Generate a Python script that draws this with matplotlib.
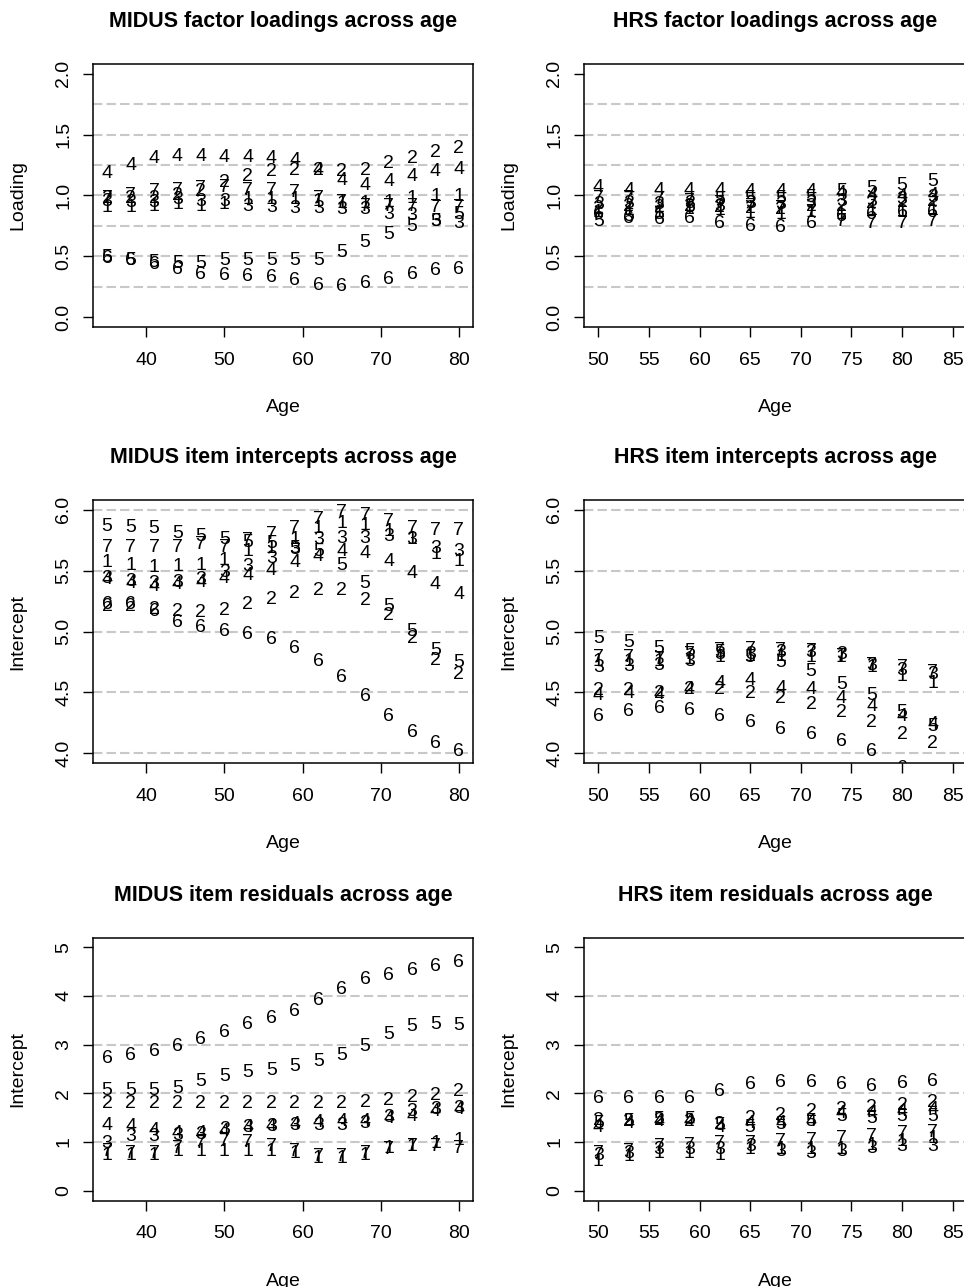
import matplotlib
matplotlib.use("Agg")
import matplotlib.pyplot as plt

plt.rcParams['font.family'] = ['Liberation Sans', 'DejaVu Sans']

# ages
midus_age = list(range(35, 81, 3))
hrs_age = list(range(50, 84, 3))

# MIDUS factor loadings (items 1-7)
ml1 = [0.92, 0.92, 0.93, 0.94, 0.93, 0.94, 0.98, 0.98, 0.98, 0.97, 0.95, 0.95, 0.96, 0.99, 1.01, 1.01]
ml2 = [0.99, 0.99, 0.99, 1.02, 1.05, 1.12, 1.17, 1.21, 1.22, 1.22, 1.21, 1.22, 1.28, 1.32, 1.37, 1.40]
ml3 = [0.97, 0.96, 0.96, 0.98, 0.97, 0.97, 0.93, 0.92, 0.91, 0.91, 0.90, 0.90, 0.86, 0.85, 0.80, 0.79]
ml4 = [1.20, 1.26, 1.32, 1.34, 1.34, 1.33, 1.33, 1.32, 1.30, 1.22, 1.14, 1.10, 1.13, 1.17, 1.21, 1.23]
ml5 = [0.51, 0.48, 0.47, 0.46, 0.46, 0.48, 0.48, 0.48, 0.48, 0.48, 0.55, 0.63, 0.70, 0.76, 0.80, 0.86]
ml6 = [0.50, 0.48, 0.45, 0.41, 0.37, 0.36, 0.35, 0.34, 0.32, 0.28, 0.27, 0.29, 0.33, 0.37, 0.40, 0.41]
ml7 = [0.99, 1.02, 1.05, 1.06, 1.07, 1.08, 1.06, 1.06, 1.04, 0.99, 0.96, 0.93, 0.93, 0.93, 0.92, 0.92]

# HRS factor loadings
hl1 = [0.88, 0.89, 0.88, 0.90, 0.89, 0.87, 0.86, 0.88, 0.86, 0.89, 0.88, 0.89]
hl2 = [0.91, 0.93, 0.92, 0.93, 0.92, 0.91, 0.90, 0.93, 0.93, 0.95, 0.96, 0.97]
hl3 = [0.94, 0.95, 0.94, 0.95, 0.93, 0.95, 0.94, 0.95, 0.97, 0.97, 0.98, 1.00]
hl4 = [1.08, 1.06, 1.06, 1.06, 1.06, 1.05, 1.05, 1.05, 1.03, 1.02, 1.01, 1.02]
hl5 = [0.80, 0.84, 0.86, 0.92, 0.98, 0.99, 0.99, 1.00, 1.05, 1.07, 1.10, 1.13]
hl6 = [0.86, 0.83, 0.82, 0.83, 0.79, 0.76, 0.75, 0.79, 0.84, 0.86, 0.88, 0.88]
hl7 = [0.99, 0.99, 0.98, 0.97, 0.95, 0.93, 0.91, 0.88, 0.80, 0.79, 0.79, 0.80]

# MIDUS item intercepts
mi1 = [5.58, 5.56, 5.54, 5.55, 5.56, 5.60, 5.67, 5.70, 5.77, 5.86, 5.90, 5.89, 5.84, 5.77, 5.65, 5.59]
mi2 = [5.22, 5.22, 5.20, 5.18, 5.17, 5.19, 5.24, 5.28, 5.33, 5.35, 5.35, 5.27, 5.15, 4.96, 4.78, 4.66]
mi3 = [5.45, 5.43, 5.41, 5.42, 5.44, 5.50, 5.55, 5.62, 5.69, 5.77, 5.78, 5.78, 5.80, 5.77, 5.70, 5.67]
mi4 = [5.44, 5.41, 5.39, 5.40, 5.42, 5.45, 5.48, 5.52, 5.58, 5.63, 5.67, 5.66, 5.59, 5.49, 5.40, 5.32]
mi5 = [5.88, 5.87, 5.86, 5.82, 5.80, 5.77, 5.75, 5.74, 5.70, 5.67, 5.56, 5.41, 5.22, 5.02, 4.86, 4.76]
mi6 = [5.24, 5.24, 5.18, 5.09, 5.05, 5.02, 4.99, 4.95, 4.88, 4.77, 4.64, 4.48, 4.32, 4.19, 4.10, 4.03]
mi7 = [5.71, 5.71, 5.71, 5.71, 5.73, 5.71, 5.76, 5.81, 5.86, 5.94, 5.99, 5.97, 5.92, 5.86, 5.85, 5.85]

# HRS item intercepts
hi1 = [4.77, 4.77, 4.77, 4.79, 4.80, 4.81, 4.81, 4.80, 4.80, 4.72, 4.65, 4.59]
hi2 = [4.53, 4.53, 4.51, 4.54, 4.54, 4.51, 4.47, 4.42, 4.35, 4.27, 4.17, 4.10]
hi3 = [4.72, 4.73, 4.74, 4.77, 4.83, 4.83, 4.84, 4.84, 4.83, 4.74, 4.70, 4.66]
hi4 = [4.49, 4.51, 4.50, 4.54, 4.59, 4.61, 4.55, 4.54, 4.47, 4.40, 4.32, 4.25]
hi5 = [4.96, 4.93, 4.88, 4.85, 4.84, 4.80, 4.76, 4.69, 4.58, 4.49, 4.35, 4.24]
hi6 = [4.32, 4.36, 4.38, 4.37, 4.32, 4.27, 4.21, 4.17, 4.11, 4.03, 3.89, 3.80]
hi7 = [4.80, 4.80, 4.79, 4.83, 4.86, 4.87, 4.86, 4.85, 4.81, 4.74, 4.72, 4.68]

# MIDUS item residuals
mr1 = [0.77, 0.77, 0.77, 0.84, 0.84, 0.84, 0.84, 0.84, 0.81, 0.71, 0.71, 0.77, 0.91, 0.96, 1.01, 1.08]
mr2 = [1.83, 1.83, 1.83, 1.83, 1.83, 1.83, 1.83, 1.83, 1.83, 1.83, 1.83, 1.85, 1.90, 1.95, 2.00, 2.07]
mr3 = [1.01, 1.15, 1.15, 1.18, 1.20, 1.29, 1.35, 1.37, 1.39, 1.39, 1.39, 1.42, 1.54, 1.66, 1.70, 1.73]
mr4 = [1.39, 1.37, 1.27, 1.22, 1.22, 1.25, 1.33, 1.37, 1.41, 1.44, 1.47, 1.47, 1.53, 1.56, 1.66, 1.70]
mr5 = [2.09, 2.09, 2.09, 2.14, 2.28, 2.39, 2.46, 2.52, 2.59, 2.69, 2.82, 3.01, 3.25, 3.42, 3.46, 3.44]
mr6 = [2.76, 2.82, 2.91, 3.01, 3.15, 3.30, 3.45, 3.58, 3.73, 3.95, 4.18, 4.38, 4.46, 4.57, 4.64, 4.72]
mr7 = [0.84, 0.81, 0.81, 0.91, 1.01, 1.05, 1.03, 0.94, 0.84, 0.74, 0.74, 0.81, 0.88, 0.94, 0.94, 0.91]

# HRS item residuals
hr1 = [0.64, 0.74, 0.81, 0.81, 0.77, 0.88, 0.88, 0.88, 0.88, 0.98, 1.05, 1.12]
hr2 = [1.49, 1.47, 1.49, 1.46, 1.40, 1.53, 1.59, 1.66, 1.71, 1.75, 1.80, 1.85]
hr3 = [0.77, 0.81, 0.88, 0.88, 0.88, 0.94, 0.84, 0.81, 0.84, 0.91, 0.94, 0.96]
hr4 = [1.34, 1.42, 1.46, 1.46, 1.35, 1.42, 1.42, 1.46, 1.63, 1.63, 1.66, 1.70]
hr5 = [1.42, 1.46, 1.51, 1.51, 1.39, 1.35, 1.40, 1.47, 1.56, 1.53, 1.56, 1.56]
hr6 = [1.94, 1.94, 1.94, 1.94, 2.07, 2.22, 2.26, 2.26, 2.22, 2.19, 2.24, 2.29]
hr7 = [0.81, 0.84, 0.94, 0.98, 1.01, 1.01, 1.05, 1.08, 1.12, 1.16, 1.22, 1.23]

W, H = 964, 1287
fig = plt.figure(figsize=(W / 100, H / 100), dpi=100)


def rlim(lo, hi):
    d = (hi - lo) * 0.04
    return lo - d, hi + d


def yticks_lab(ticks):
    if all(float(t).is_integer() for t in ticks) and max(ticks) > 2:
        return [str(int(t)) for t in ticks]
    return ['%.1f' % t for t in ticks]


def panel(left, top, width, ages, series, xr, xticks, yr, yticks, grid, title, ylab):
    ax = fig.add_axes([left / W, 1 - (top + 263) / H, width / W, 263 / H])
    ax.set_xlim(*rlim(*xr))
    ax.set_ylim(*rlim(*yr))
    for g in grid:
        ax.axhline(g, color='#c8c8c8', lw=1.5, ls=(0, (4.5, 2)), zorder=0)
    for i, vals in enumerate(series):
        for a, v in zip(ages, vals):
            ax.text(a, v, str(i + 1), ha='center', va='center_baseline',
                    fontsize=14, clip_on=True)
    ax.set_xticks(xticks)
    ax.set_yticks(yticks)
    ax.set_yticklabels(yticks_lab(yticks), rotation=90, va='center')
    ax.tick_params(direction='out', length=7, width=1, labelsize=14)
    ax.tick_params(axis='x', pad=11)
    ax.tick_params(axis='y', pad=8)
    for s in ax.spines.values():
        s.set_linewidth(1.1)
    ax.text(0.5, 1 + 42 / 263, title, transform=ax.transAxes, ha='center',
            va='center', fontsize=15.5, fontweight='bold')
    ax.text(0.5, -81 / 263, 'Age', transform=ax.transAxes, ha='center',
            va='center', fontsize=14)
    ax.text(-75 / width, 0.5, ylab, transform=ax.transAxes, ha='center',
            va='center', rotation=90, fontsize=14)
    return ax


rows = [64, 500, 937.5]
panel(93, rows[0], 380, midus_age, [ml1, ml2, ml3, ml4, ml5, ml6, ml7],
      (35, 80), [40, 50, 60, 70, 80], (0, 2), [0, 0.5, 1, 1.5, 2],
      [0.25, 0.5, 0.75, 1, 1.25, 1.5, 1.75],
      'MIDUS factor loadings across age', 'Loading')
panel(584, rows[0], 383, hrs_age, [hl1, hl2, hl3, hl4, hl5, hl6, hl7],
      (50, 85), [50, 55, 60, 65, 70, 75, 80, 85], (0, 2), [0, 0.5, 1, 1.5, 2],
      [0.25, 0.5, 0.75, 1, 1.25, 1.5, 1.75],
      'HRS factor loadings across age', 'Loading')
panel(93, rows[1], 380, midus_age, [mi1, mi2, mi3, mi4, mi5, mi6, mi7],
      (35, 80), [40, 50, 60, 70, 80], (4, 6), [4, 4.5, 5, 5.5, 6],
      [4, 4.5, 5, 5.5, 6],
      'MIDUS item intercepts across age', 'Intercept')
panel(584, rows[1], 383, hrs_age, [hi1, hi2, hi3, hi4, hi5, hi6, hi7],
      (50, 85), [50, 55, 60, 65, 70, 75, 80, 85], (4, 6), [4, 4.5, 5, 5.5, 6],
      [4, 4.5, 5, 5.5, 6],
      'HRS item intercepts across age', 'Intercept')
panel(93, rows[2], 380, midus_age, [mr1, mr2, mr3, mr4, mr5, mr6, mr7],
      (35, 80), [40, 50, 60, 70, 80], (0, 5), [0, 1, 2, 3, 4, 5],
      [1, 2, 3, 4],
      'MIDUS item residuals across age', 'Intercept')
panel(584, rows[2], 383, hrs_age, [hr1, hr2, hr3, hr4, hr5, hr6, hr7],
      (50, 85), [50, 55, 60, 65, 70, 75, 80, 85], (0, 5), [0, 1, 2, 3, 4, 5],
      [1, 2, 3, 4],
      'HRS item residuals across age', 'Intercept')

fig.savefig('out.png', dpi=100)
